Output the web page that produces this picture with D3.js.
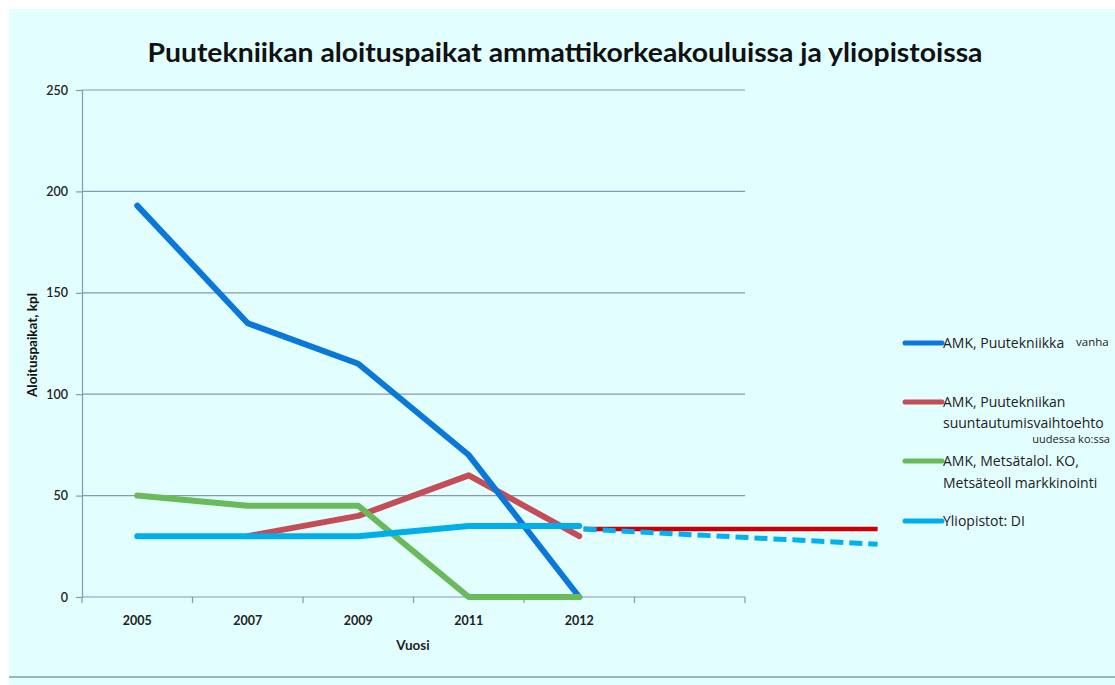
<!DOCTYPE html>
<html><head><meta charset="utf-8">
<script src="https://cdn.jsdelivr.net/npm/d3@7"></script>
<style>
html,body{margin:0;padding:0;background:#fff;}
svg{display:block;}
</style></head>
<body>
<script>
const categories = ["2005","2007","2009","2011","2012",""];
const amkVanha   = [193, 135, 115, 70, 0, null];
const amkUusi    = [null, 30, 40, 60, 30, null];
const amkMetsa   = [50, 45, 45, 0, 0, null];
const yliopistot = [30, 30, 30, 35, 35, null];
const yTicks = [0, 50, 100, 150, 200, 250];
// projection beyond 2012 (category index positions)
const projIdx  = [4.04, 6.7];
const projRed  = [33.5, 33.5];
const projCyan = [33.5, 26];

const W = 1115, H = 685;
const svg = d3.select("body").append("svg").attr("width", W).attr("height", H);
svg.append("rect").attr("x",9).attr("y",9).attr("width",W-9).attr("height",H-9).attr("fill","#e2fefe");
svg.append("rect").attr("x",9).attr("y",676).attr("width",W-9).attr("height",2).attr("fill","#93b5c6");

const L = 82, R = 745, T = 90, B = 597;
const x = d3.scaleBand().domain(categories).range([L, R]);
const y = d3.scaleLinear().domain([0, 250]).range([B, T]);
const xi = d3.scaleLinear().domain([0, categories.length-1])
  .range([x(categories[0]) + x.bandwidth()/2, x(categories[categories.length-1]) + x.bandwidth()/2]);

// gridlines
svg.append("g").selectAll("line").data(yTicks.filter(d=>d>0)).join("line")
  .attr("x1", L).attr("x2", R).attr("y1", d=>y(d)).attr("y2", d=>y(d))
  .attr("stroke", "#8898ae").attr("stroke-width", 1.2);

// y axis
const yAxis = svg.append("g").attr("transform", `translate(${L},0)`)
  .call(d3.axisLeft(y).tickValues(yTicks).tickSize(6).tickPadding(8));
yAxis.select(".domain").attr("stroke", "#8898ae").attr("stroke-width", 1.2);
yAxis.selectAll(".tick line").attr("stroke", "#8898ae").attr("stroke-width", 1.2);
yAxis.selectAll("text").attr("font-family", "Lato, 'Open Sans', sans-serif").attr("font-size", 12.5)
  .attr("fill", "#222").attr("font-weight", 600);

// x axis line + tick marks at band edges
svg.append("line").attr("x1", L).attr("x2", R).attr("y1", B).attr("y2", B)
  .attr("stroke", "#8898ae").attr("stroke-width", 1.2);
const edges = categories.map(c => x(c)).concat([R]);
svg.append("g").selectAll("line").data(edges).join("line")
  .attr("x1", d=>d).attr("x2", d=>d).attr("y1", B).attr("y2", B+6)
  .attr("stroke", "#8898ae").attr("stroke-width", 1.2);
svg.append("g").selectAll("text").data(categories).join("text")
  .attr("x", d => x(d) + x.bandwidth()/2).attr("y", B + 28)
  .attr("text-anchor", "middle").attr("font-family", "Lato, sans-serif")
  .attr("font-size", 12.5).attr("font-weight", 700).attr("fill", "#222").text(d=>d);

// axis titles
svg.append("text").attr("x", 413).attr("y", 650).attr("text-anchor","middle")
  .attr("font-family","Lato, sans-serif").attr("font-size",13.5).attr("font-weight",700).attr("fill","#222").text("Vuosi");
svg.append("text").attr("transform","translate(37,345) rotate(-90)").attr("text-anchor","middle")
  .attr("font-family","Lato, sans-serif").attr("font-size",13.5).attr("font-weight",700).attr("fill","#111").text("Aloituspaikat, kpl");

// title
svg.append("text").attr("x", 565).attr("y", 62).attr("text-anchor","middle")
  .attr("font-family","Lato, sans-serif").attr("font-size",27).attr("font-weight",700).attr("fill","#111")
  .attr("textLength", 835).attr("lengthAdjust","spacingAndGlyphs")
  .text("Puutekniikan aloituspaikat ammattikorkeakouluissa ja yliopistoissa");

const line = d3.line().defined(d => d.v !== null)
  .x(d => x(d.c) + x.bandwidth()/2).y(d => y(d.v));
const series = [
  {vals: amkUusi, color: "#c44d58"},
  {vals: amkVanha, color: "#0a78d8"},
  {vals: amkMetsa, color: "#6aba5c"},
  {vals: yliopistot, color: "#00aeea"}
];
series.forEach(s => {
  svg.append("path").datum(categories.map((c,i)=>({c, v: s.vals[i]})))
    .attr("d", line).attr("fill","none").attr("stroke", s.color).attr("stroke-width", 6)
    .attr("stroke-linecap","round").attr("stroke-linejoin","round");
});

// projection
const pline = d3.line().x(d => xi(d.i)).y(d => y(d.v));
svg.append("path").datum(projIdx.map((i,k)=>({i, v: projRed[k]})))
  .attr("d", pline).attr("fill","none").attr("stroke","#cc0000").attr("stroke-width",4.5);
svg.append("path").datum(projIdx.map((i,k)=>({i, v: projCyan[k]})))
  .attr("d", pline).attr("fill","none").attr("stroke","#00b0f0").attr("stroke-width",5)
  .attr("stroke-dasharray","13,6");

// legend
const legend = [
  {color:"#0a78d8", y:343, lines:[{t:"AMK, Puutekniikka", dy:0}], sup:"vanha"},
  {color:"#c44d58", y:402, lines:[{t:"AMK, Puutekniikan", dy:0},{t:"suuntautumisvaihtoehto", dy:21}], small:"uudessa ko:ssa"},
  {color:"#6aba5c", y:461, lines:[{t:"AMK, Metsätalol. KO,", dy:0},{t:"Metsäteoll markkinointi", dy:22}]},
  {color:"#00aeea", y:521, lines:[{t:"Yliopistot: DI", dy:0}]}
];
const lg = svg.append("g").attr("font-family","'Open Sans', sans-serif").attr("fill","#222");
legend.forEach(e => {
  lg.append("line").attr("x1",905).attr("x2",942).attr("y1",e.y).attr("y2",e.y)
    .attr("stroke",e.color).attr("stroke-width",5).attr("stroke-linecap","round");
  e.lines.forEach(l => {
    lg.append("text").attr("x",943).attr("y",e.y+l.dy+5).attr("font-size",14).text(l.t);
  });
  if (e.sup) lg.append("text").attr("x",1076).attr("y",e.y+3).attr("font-size",11.5).text(e.sup);
  if (e.small) lg.append("text").attr("x",1110).attr("y",e.y+41).attr("text-anchor","end").attr("font-size",11).text(e.small);
});
</script>
</body></html>
